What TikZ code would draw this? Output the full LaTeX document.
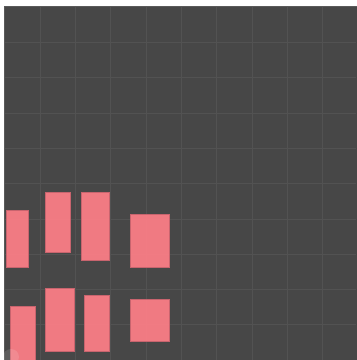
\documentclass[tikz,border=0pt]{standalone}
\usetikzlibrary{positioning}
\definecolor{canvasgrey}{HTML}{474747}
\definecolor{gridgrey}{HTML}{525252}
\definecolor{edgegrey}{HTML}{5A5A5A}
\definecolor{blockpink}{HTML}{FF7F88}
\definecolor{blockedge}{HTML}{C8646E}
\tikzset{
  canvas/.style={fill=canvasgrey,draw=edgegrey,line width=0.4pt},
  gridln/.style={draw=gridgrey,line width=0.35pt},
  blk/.style={fill=blockpink,fill opacity=0.92,draw=blockedge,line width=0.35pt},
  cursorring/.style={fill=white,fill opacity=0.12,draw=none},
}

\begin{document}
\begin{tikzpicture}[x=0.25mm,y=-0.25mm]

% page and canvas
\useasboundingbox (0,0) rectangle (356,360);
\fill[white] (0,0) rectangle (356,360);
\path[canvas] (4.5,6.5) rectangle (357,361);

% grid, 10 by 10 cells
\foreach \k in {1,...,9} {
  \draw[gridln] ({4.7+35.3*\k},7) -- ({4.7+35.3*\k},360);
  \draw[gridln] (5,{7+35.3*\k}) -- (356,{7+35.3*\k});
}

% Row 1: upper blocks
\path[blk] (6,210) rectangle (28,267);
\path[blk] (45,192) rectangle (70,252);
\path[blk] (81,192) rectangle (109,260);
\path[blk] (130,214) rectangle (169,267);

% Row 2: lower blocks
\path[blk] (10,306) rectangle (35,361);
\path[blk] (45,288) rectangle (74,351);
\path[blk] (84,295) rectangle (109,351);
\path[blk] (130,299) rectangle (169,341);

% faint ring in the corner
\path[cursorring] (11,357) circle (8);

\end{tikzpicture}
\end{document}
